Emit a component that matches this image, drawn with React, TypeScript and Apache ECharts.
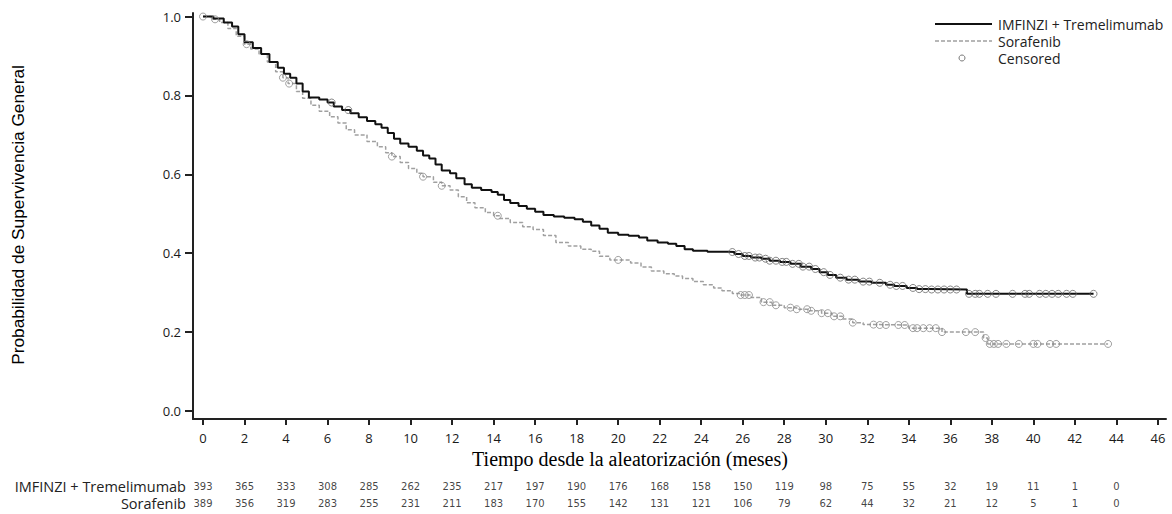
import React, { useEffect, useRef } from "react";
import * as echarts from "echarts";

const xTicks = [0, 2, 4, 6, 8, 10, 12, 14, 16, 18, 20, 22, 24, 26, 28, 30, 32, 34, 36, 38, 40, 42, 44, 46];
const yTicks = [0, 0.2, 0.4, 0.6, 0.8, 1.0];
const riskRows = ["IMFINZI + Tremelimumab", "Sorafenib"];
const riskTimes = [0, 2, 4, 6, 8, 10, 12, 14, 16, 18, 20, 22, 24, 26, 28, 30, 32, 34, 36, 38, 40, 42, 44];
const riskImfinzi = [393, 365, 333, 308, 285, 262, 235, 217, 197, 190, 176, 168, 158, 150, 119, 98, 75, 55, 32, 19, 11, 1, 0];
const riskSorafenib = [389, 356, 319, 283, 255, 231, 211, 183, 170, 155, 142, 131, 121, 106, 79, 62, 44, 32, 21, 12, 5, 1, 0];

const imfinziCurve: [number, number][] = [
  [0, 1.0], [0.5, 0.995], [1.0, 0.985], [1.4, 0.975], [1.7, 0.955], [2.0, 0.935], [2.4, 0.92],
  [2.8, 0.905], [3.2, 0.885], [3.6, 0.87], [3.9, 0.855], [4.2, 0.845], [4.5, 0.83], [4.8, 0.81],
  [5.1, 0.795], [5.6, 0.79], [6.0, 0.782], [6.3, 0.772], [6.7, 0.763], [7.1, 0.755], [7.5, 0.745],
  [7.9, 0.735], [8.3, 0.727], [8.6, 0.718], [8.9, 0.705], [9.2, 0.69], [9.5, 0.678], [9.9, 0.67],
  [10.3, 0.66], [10.6, 0.648], [10.9, 0.64], [11.2, 0.625], [11.5, 0.61], [11.9, 0.603], [12.2, 0.59],
  [12.6, 0.575], [12.95, 0.566], [13.4, 0.56], [13.9, 0.555], [14.2, 0.548], [14.5, 0.535], [14.8, 0.527],
  [15.2, 0.52], [15.6, 0.513], [16.0, 0.505], [16.4, 0.497], [16.9, 0.493], [17.4, 0.49], [17.9, 0.486],
  [18.3, 0.48], [18.7, 0.47], [19.1, 0.462], [19.5, 0.452], [20.0, 0.447], [20.5, 0.444], [21.0, 0.44],
  [21.4, 0.432], [21.9, 0.427], [22.4, 0.424], [22.8, 0.418], [23.2, 0.41], [23.6, 0.406], [24.3, 0.404],
  [25.3, 0.403], [25.6, 0.398], [26.0, 0.393], [26.4, 0.389], [26.9, 0.386], [27.3, 0.381], [27.8, 0.378],
  [28.3, 0.373], [28.8, 0.366], [29.3, 0.36], [29.7, 0.352], [30.1, 0.345], [30.5, 0.338], [31.0, 0.333],
  [31.6, 0.328], [32.2, 0.325], [32.9, 0.32], [33.3, 0.317], [33.9, 0.312], [34.4, 0.309], [35.0, 0.308],
  [36.8, 0.297], [42.9, 0.297],
];

const sorafenibCurve: [number, number][] = [
  [0, 1.0], [0.4, 0.993], [0.8, 0.985], [1.2, 0.97], [1.6, 0.95], [2.0, 0.93], [2.3, 0.918], [2.7, 0.905],
  [3.1, 0.885], [3.5, 0.86], [3.85, 0.845], [4.1, 0.83], [4.5, 0.81], [4.8, 0.793], [5.2, 0.775],
  [5.6, 0.76], [6.1, 0.746], [6.5, 0.73], [6.9, 0.713], [7.3, 0.7], [7.9, 0.683], [8.4, 0.67],
  [8.8, 0.655], [9.1, 0.645], [9.5, 0.63], [9.9, 0.615], [10.3, 0.603], [10.6, 0.594], [11.1, 0.58],
  [11.5, 0.571], [11.9, 0.56], [12.3, 0.543], [12.7, 0.528], [13.1, 0.515], [13.6, 0.503], [14.0, 0.495],
  [14.3, 0.488], [14.8, 0.478], [15.4, 0.467], [15.9, 0.46], [16.4, 0.445], [17.0, 0.427], [17.6, 0.418],
  [18.2, 0.41], [18.7, 0.405], [19.1, 0.392], [19.6, 0.383], [20.6, 0.375], [21.1, 0.365], [21.6, 0.355],
  [22.2, 0.348], [22.7, 0.342], [23.1, 0.336], [23.6, 0.328], [24.1, 0.32], [24.6, 0.312], [25.0, 0.305],
  [25.5, 0.298], [25.9, 0.294], [26.4, 0.288], [26.9, 0.276], [27.4, 0.268], [28.0, 0.262], [28.6, 0.258],
  [29.2, 0.254], [29.8, 0.248], [30.3, 0.24], [30.8, 0.233], [31.3, 0.224], [31.8, 0.219], [32.6, 0.218],
  [34.0, 0.21], [35.6, 0.2], [37.6, 0.185], [37.8, 0.17], [43.6, 0.17],
];

const imfinziCensorTimes = [
  6.2, 7.0, 25.5, 25.8, 26.1, 26.3, 26.6, 26.8, 27.1, 27.3, 27.6, 27.9, 28.1, 28.4, 28.7, 28.9, 29.2, 29.5,
  29.9, 30.2, 30.7, 31.1, 31.4, 31.8, 32.1, 32.6, 33.1, 33.4, 33.7, 34.2, 34.5, 34.8, 35.1, 35.4, 35.7,
  36.0, 36.3, 36.9, 37.2, 37.4, 37.8, 38.2, 39.0, 39.6, 39.8, 40.3, 40.6, 40.9, 41.2, 41.6, 41.9, 42.9,
];

const sorafenibCensorTimes = [
  0, 0.58, 2.1, 3.85, 4.15, 9.1, 10.6, 11.5, 14.2, 20.0, 25.9, 26.1, 26.3, 27.0, 27.3, 27.6, 28.3, 28.6,
  29.1, 29.3, 29.8, 30.1, 30.4, 30.7, 31.3, 32.3, 32.6, 32.9, 33.5, 33.8, 34.2, 34.4, 34.7, 35.0, 35.3,
  35.6, 36.75, 37.2, 37.7, 37.9, 38.1, 38.3, 38.7, 39.3, 40.0, 40.2, 40.8, 41.1, 43.6,
];

function valueAt(curve: [number, number][], t: number): number {
  let v = curve[0][1];
  for (const [x, y] of curve) {
    if (x <= t + 1e-9) v = y;
    else break;
  }
  return v;
}

const tickFont = { fontFamily: "Open Sans", fontSize: 13, color: "#1a1a1a" };

export default function App() {
  const ref = useRef<HTMLDivElement>(null);
  useEffect(() => {
    if (!ref.current) return;
    const chart = echarts.init(ref.current, undefined, { renderer: "svg" });
    const censorStyle = (c: string) => ({ color: "rgba(0,0,0,0)", borderColor: c, borderWidth: 1 });
    chart.setOption({
      animation: false,
      backgroundColor: "#fff",
      grid: [
        { left: 193, right: 6, top: 13, height: 406 },
        { left: 193, right: 6, top: 478, height: 34 },
      ],
      xAxis: [
        {
          gridIndex: 0,
          type: "value",
          min: -0.482,
          max: 46.39,
          axisLine: { show: true, onZero: false, lineStyle: { color: "#222", width: 2 } },
          axisTick: { show: true, length: 6, customValues: xTicks, lineStyle: { color: "#222", width: 2 } },
          axisLabel: { show: true, customValues: xTicks, margin: 12, ...tickFont },
          splitLine: { show: false },
        },
        { gridIndex: 1, type: "value", min: -0.482, max: 46.39, show: false },
      ],
      yAxis: [
        {
          gridIndex: 0,
          type: "value",
          min: -0.0203,
          max: 1.009,
          axisLine: { show: true, onZero: false, lineStyle: { color: "#222", width: 2 } },
          axisTick: { show: true, length: 8, customValues: yTicks, lineStyle: { color: "#222", width: 2 } },
          axisLabel: {
            show: true,
            customValues: yTicks,
            margin: 12,
            formatter: (v: number) => v.toFixed(1),
            ...tickFont,
          },
          splitLine: { show: false },
        },
        {
          gridIndex: 1,
          type: "category",
          data: riskRows,
          inverse: true,
          axisLine: { show: false },
          axisTick: { show: false },
          axisLabel: { interval: 0, margin: 7, fontFamily: "Open Sans", fontSize: 14.5, color: "#222" },
        },
      ],
      series: [
        {
          name: "Sorafenib",
          type: "line",
          step: "end",
          data: sorafenibCurve,
          showSymbol: false,
          lineStyle: { color: "#a0a0a0", width: 1.5, type: [4, 2] },
          z: 2,
        },
        {
          name: "IMFINZI + Tremelimumab",
          type: "line",
          step: "end",
          data: imfinziCurve,
          showSymbol: false,
          lineStyle: { color: "#111", width: 2 },
          z: 3,
        },
        {
          name: "Censored",
          type: "scatter",
          data: sorafenibCensorTimes.map((t) => [t, valueAt(sorafenibCurve, t)]),
          symbol: "circle",
          symbolSize: 7,
          itemStyle: censorStyle("#888"),
          z: 4,
        },
        {
          name: "Censored",
          type: "scatter",
          data: imfinziCensorTimes.map((t) => [t, valueAt(imfinziCurve, t)]),
          symbol: "circle",
          symbolSize: 7,
          itemStyle: censorStyle("#666"),
          z: 4,
        },
        {
          type: "scatter",
          xAxisIndex: 1,
          yAxisIndex: 1,
          symbolSize: 1,
          itemStyle: { color: "rgba(0,0,0,0)" },
          label: {
            show: true,
            position: "inside",
            formatter: (p: any) => String(p.value[2]),
            fontFamily: "DejaVu Sans",
            fontSize: 10,
            color: "#111",
          },
          data: [
            ...riskTimes.map((t, i) => [t, riskRows[0], riskImfinzi[i]]),
            ...riskTimes.map((t, i) => [t, riskRows[1], riskSorafenib[i]]),
          ],
        },
      ],
      graphic: [
        { type: "line", shape: { x1: 935, y1: 24, x2: 992, y2: 24 }, style: { stroke: "#111", lineWidth: 2 } },
        {
          type: "text", x: 998, y: 24,
          style: { text: "IMFINZI + Tremelimumab", fontFamily: "Open Sans", fontSize: 14, fill: "#222", verticalAlign: "middle" },
        },
        { type: "line", shape: { x1: 935, y1: 41, x2: 992, y2: 41 }, style: { stroke: "#a0a0a0", lineWidth: 1.5, lineDash: [4, 2] } },
        {
          type: "text", x: 998, y: 41,
          style: { text: "Sorafenib", fontFamily: "Open Sans", fontSize: 14, fill: "#222", verticalAlign: "middle" },
        },
        { type: "circle", shape: { cx: 962, cy: 58, r: 3 }, style: { fill: "none", stroke: "#777", lineWidth: 1 } },
        {
          type: "text", x: 998, y: 58,
          style: { text: "Censored", fontFamily: "Open Sans", fontSize: 14, fill: "#222", verticalAlign: "middle" },
        },
        {
          type: "text", x: 630, y: 459,
          style: {
            text: "Tiempo desde la aleatorización (meses)", fontFamily: "Liberation Serif", fontSize: 20,
            fill: "#000", align: "center", verticalAlign: "middle",
          },
        },
        {
          type: "text", x: 18, y: 215, rotation: Math.PI / 2,
          style: {
            text: "Probabilidad de Supervivencia General", fontFamily: "Liberation Sans", fontSize: 17.3,
            fill: "#000", align: "center", verticalAlign: "middle",
          },
        },
      ],
    });
    return () => chart.dispose();
  }, []);
  return <div ref={ref} style={{ position: "absolute", left: 0, top: 0, width: 1172, height: 514 }} />;
}
